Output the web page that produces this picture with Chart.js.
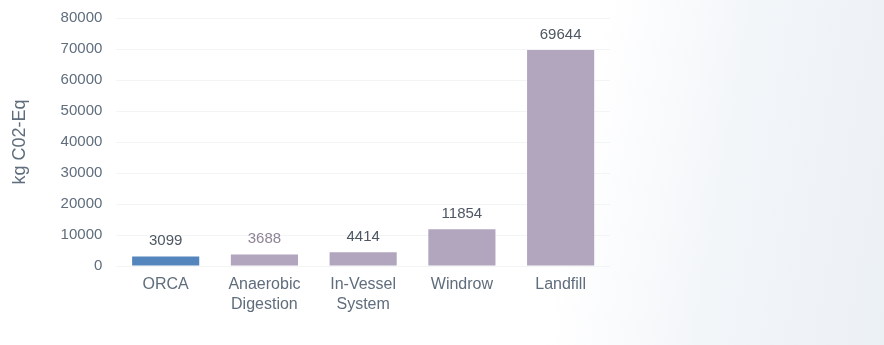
<!DOCTYPE html>
<html>
<head>
<meta charset="utf-8">
<script src="https://cdn.jsdelivr.net/npm/chart.js@4"></script>
<style>
    html, body { margin: 0; padding: 0; }
    body {
        width: 884px; height: 345px; overflow: hidden;
        background: linear-gradient(100deg, #ffffff 0%, #ffffff 64%, #f3f6f9 80%, #ebf0f5 100%);
    }
    #wrap { position: relative; top: -5px; width: 884px; height: 350px; }
</style>
</head>
<body>
<div id="wrap"><canvas id="co2Chart"></canvas></div>
<script>
    // Chart data
    const categories = ['ORCA', ['Anaerobic', 'Digestion'], ['In-Vessel', 'System'], 'Windrow', 'Landfill'];
    const emissions = [3099, 3688, 4414, 11854, 69644];
    const yTicks = [0, 10000, 20000, 30000, 40000, 50000, 60000, 70000, 80000];

    const fontFamily = '"Liberation Sans", Arial, sans-serif';
    const textColor = '#5f6d7c';
    const barColors = ['#5486bd', '#b2a6be', '#b2a6be', '#b2a6be', '#b2a6be'];
    const labelColors = ['#4e5763', '#8f8496', '#4e5763', '#4e5763', '#4e5763'];

    // Draws the value above each bar
    const valueLabels = {
        id: 'valueLabels',
        afterDatasetsDraw(chart) {
            const ctx = chart.ctx;
            const meta = chart.getDatasetMeta(0);
            ctx.save();
            ctx.font = '15px ' + fontFamily;
            ctx.textAlign = 'center';
            ctx.textBaseline = 'bottom';
            meta.data.forEach((bar, i) => {
                ctx.fillStyle = labelColors[i];
                ctx.fillText(String(emissions[i]), bar.x, bar.y - 8);
            });
            ctx.restore();
        }
    };

    const ctx = document.getElementById('co2Chart').getContext('2d');
    new Chart(ctx, {
        type: 'bar',
        data: {
            labels: categories,
            datasets: [{
                data: emissions,
                backgroundColor: barColors,
                borderWidth: 0,
                barPercentage: 0.68,
                categoryPercentage: 1
            }]
        },
        options: {
            responsive: true,
            maintainAspectRatio: false,
            animation: false,
            layout: { padding: { top: 0, right: 274, left: 0, bottom: 29 } },
            plugins: {
                legend: { display: false },
                tooltip: { enabled: false }
            },
            scales: {
                x: {
                    grid: { display: false },
                    border: { display: false },
                    ticks: {
                        color: textColor,
                        font: { family: fontFamily, size: 16, lineHeight: 1.25 },
                        padding: 1,
                        maxRotation: 0
                    }
                },
                y: {
                    min: 0,
                    max: 80000,
                    afterBuildTicks: axis => { axis.ticks = yTicks.map(v => ({ value: v })); },
                    grid: { color: '#f3f4f6', drawTicks: false },
                    border: { display: false },
                    ticks: {
                        color: textColor,
                        font: { family: fontFamily, size: 15 },
                        padding: 14,
                        callback: v => String(v)
                    },
                    title: {
                        display: true,
                        text: 'kg C02-Eq',
                        color: textColor,
                        font: { family: fontFamily, size: 18 },
                        padding: { top: 9, bottom: 16 }
                    }
                }
            }
        },
        plugins: [valueLabels]
    });
</script>
</body>
</html>
